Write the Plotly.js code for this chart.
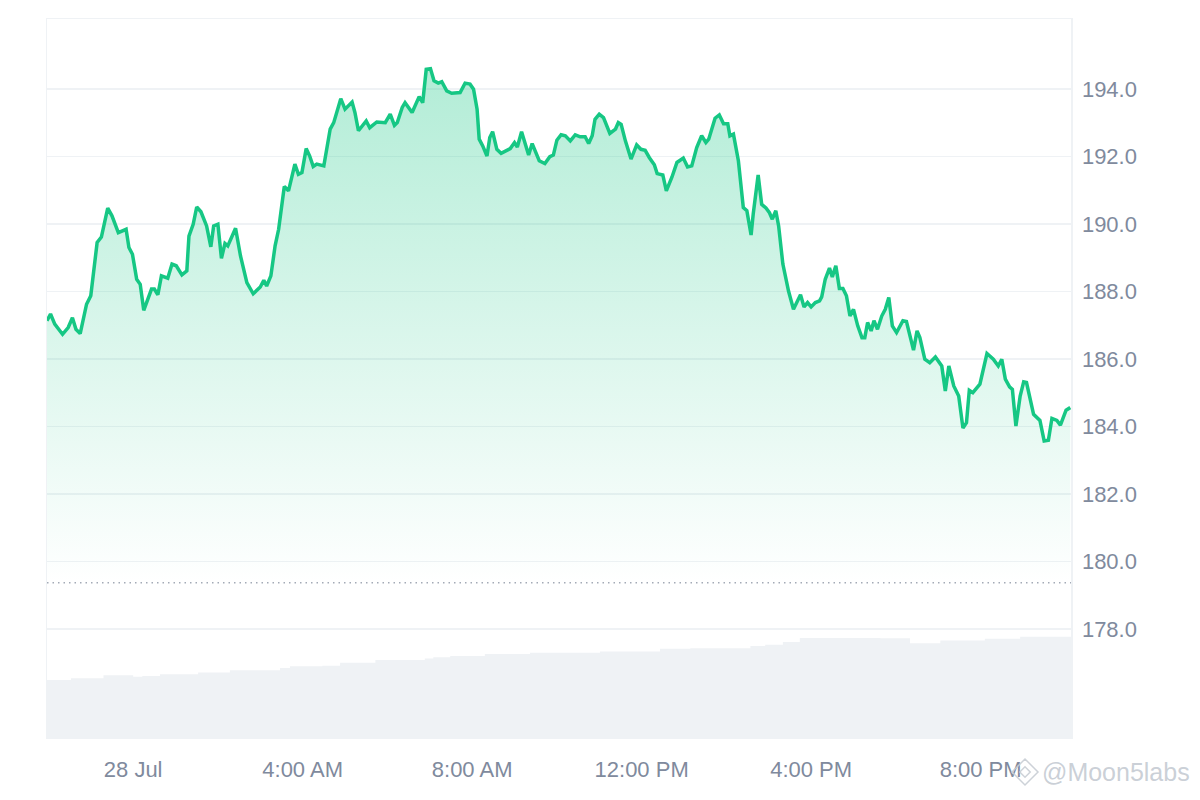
<!DOCTYPE html>
<html><head><meta charset="utf-8">
<script src="https://cdn.plot.ly/plotly-3.0.1.min.js"></script>
<style>html,body{margin:0;padding:0;background:#fff}#chart{width:1200px;height:800px}</style>
</head><body><div id="chart"></div>
<script>
// minutes relative to 00:00, 28 Jul
const minutes = [
-122,-117,-111,-100,-92,-86,-81,-75,-66,-60,
-51,-45,-36,-30,-21,-10,-6,-1,5,10,
15,26,30,35,40,49,55,61,69,76,
79,85,90,96,104,110,114,120,125,130,
134,145,152,161,170,180,185,189,195,201,
206,214,220,229,234,239,245,250,255,260,
270,279,284,294,300,310,314,319,330,335,
345,357,364,370,374,381,385,395,405,410,
415,421,426,432,437,444,451,463,470,477,
482,487,490,495,501,505,509,515,521,529,
534,540,544,550,560,565,569,575,583,590,
595,600,606,612,619,626,633,640,645,650,
654,660,666,675,683,687,691,697,705,713,
719,725,731,738,742,750,755,763,770,779,
785,791,798,805,811,815,824,830,836,842,
845,850,857,864,869,875,878,885,890,896,
901,905,910,914,920,928,935,941,945,950,
955,960,966,972,975,980,986,990,995,1000,
1005,1010,1015,1020,1026,1032,1036,1040,1045,1049,
1054,1060,1065,1070,1075,1081,1090,1095,1105,1110,
1114,1121,1128,1136,1145,1150,1155,1162,1169,1175,
1180,1184,1189,1199,1209,1218,1225,1230,1235,1241,
1245,1250,1256,1261,1265,1275,1284,1290,1296,1301,
1308,1313,1321,1327];
const prices = [
187.13,187.33,187.03,186.73,186.93,187.22,186.88,186.75,187.62,187.87,
189.45,189.61,190.47,190.24,189.74,189.84,189.30,189.10,188.36,188.21,
187.44,188.07,188.07,187.90,188.46,188.39,188.81,188.76,188.49,188.61,
189.64,189.99,190.50,190.36,189.94,189.32,189.94,189.99,188.98,189.42,
189.35,189.87,189.05,188.26,187.93,188.13,188.33,188.16,188.46,189.35,
189.84,191.11,190.98,191.77,191.47,191.52,192.23,192.01,191.70,191.77,
191.72,192.81,193.00,193.71,193.40,193.61,193.30,192.76,193.05,192.85,
193.02,193.00,193.25,192.92,193.00,193.45,193.59,193.30,193.77,193.59,
194.58,194.60,194.24,194.17,194.21,193.94,193.87,193.89,194.17,194.14,
193.99,193.40,192.51,192.31,192.01,192.56,192.73,192.21,192.09,192.18,
192.23,192.41,192.28,192.73,192.04,192.38,192.16,191.87,191.79,191.99,
192.04,192.48,192.64,192.61,192.46,192.64,192.58,192.58,192.38,192.61,
193.10,193.25,193.15,192.68,192.81,193.00,192.95,192.46,191.92,192.34,
192.21,192.18,191.96,191.75,191.49,191.45,190.98,191.39,191.82,191.95,
191.69,191.72,192.26,192.61,192.41,192.51,193.13,193.23,192.97,192.97,
192.61,192.66,191.87,190.48,190.39,189.67,190.29,191.45,190.58,190.47,
190.33,190.14,190.39,189.94,188.81,188.01,187.47,187.74,187.90,187.54,
187.67,187.54,187.67,187.72,187.84,188.36,188.69,188.43,188.76,188.09,
188.09,187.87,187.27,187.47,186.98,186.63,186.63,187.08,186.83,187.13,
186.88,187.27,187.47,187.82,186.98,186.78,187.13,187.11,186.26,186.83,
186.63,185.99,185.89,186.06,185.79,185.05,185.79,185.20,184.90,183.95,
184.11,185.07,185.00,185.25,186.16,185.99,185.79,185.99,185.40,185.17,
185.10,184.01,184.90,185.32,185.30,184.36,184.18,183.57,183.59,184.24,
184.18,184.04,184.48,184.56];
const volMinutes = [-122,-88,-42,0,13,38,92,137,208,222,268,293,343,413,425,449,498,562,661,746,789,874,895,920,944,1058,1100,1143,1206,1256,1328];
const volumes = [318,327,344,336,340,349,360,372,384,394,397,414,429,438,444,451,462,470,477,492,494,507,514,529,552,550,522,537,548,559,559];
const xTickMinutes = [0,240,480,720,960,1200];
const xTickLabels = ['28 Jul','4:00 AM','8:00 AM','12:00 PM','4:00 PM','8:00 PM'];
const yTicks = [178,180,182,184,186,188,190,192,194];
const refPrice = 179.37;
const windowMinutes = [-122, 1328];

const base = Date.UTC(2024,6,28,0,0,0);
function toDate(m){ return new Date(base + m*60000).toISOString().slice(0,19).replace('T',' '); }

const n = Math.min(minutes.length, prices.length);
const xs = minutes.slice(0,n).map(toDate);
const ys = prices.slice(0,n);
const maxP = Math.max(...ys);

const textColor = '#808a9d';
const gridColor = '#eff2f5';
const fontFam = '"Liberation Sans", Arial, Helvetica, sans-serif';

const traces = [
  {
    x: xs, y: ys, type:'scatter', mode:'lines',
    line:{color:'#16c784', width:3.5},
    fill:'tozeroy',
    fillgradient:{type:'vertical', start: refPrice, stop: maxP,
      colorscale:[[0,'rgba(22,199,132,0)'],[1,'rgba(22,199,132,0.33)']]},
    hoverinfo:'skip'
  },
  {
    x: volMinutes.map(toDate), y: volumes, type:'scatter', mode:'lines', yaxis:'y2',
    line:{shape:'hv', width:0, color:'rgb(239,242,245)'},
    fill:'tozeroy', fillcolor:'rgb(239,242,245)', hoverinfo:'skip'
  }
];

const cx = (1025-47)/1024, cy = (737-772)/718, hx = 13/1024, hy = 13/718;
const layout = {
  width:1200, height:800,
  margin:{l:47, r:129, t:19, b:63},
  paper_bgcolor:'#fff', plot_bgcolor:'#fff',
  showlegend:false,
  font:{family:fontFam, color:textColor},
  xaxis:{
    type:'date', range:[toDate(windowMinutes[0]), toDate(windowMinutes[1])],
    tickmode:'array', tickvals: xTickMinutes.map(toDate), ticktext: xTickLabels,
    showgrid:false, zeroline:false, showline:true, mirror:true,
    linecolor:gridColor, linewidth:1.5, ticks:'',
    tickfont:{size:22, color:textColor, family:fontFam},
    ticklabelstandoff:12
  },
  yaxis:{
    side:'right', range:[174.80, 196.07],
    tickmode:'array', tickvals: yTicks, ticktext: yTicks.map(v=>v.toFixed(1)),
    showgrid:true, gridcolor:gridColor, gridwidth:1.5,
    zeroline:false, showline:true, mirror:true, linecolor:gridColor, linewidth:1.5,
    ticks:'', tickfont:{size:22, color:textColor, family:fontFam},
    ticklabelstandoff:5
  },
  yaxis2:{overlaying:'y', range:[0,4000], visible:false, fixedrange:true},
  shapes:[
    {type:'line', xref:'paper', x0:0, x1:1, yref:'y', y0:refPrice, y1:refPrice,
     line:{color:'#a3aab6', width:1.5, dash:'1.5px,4px'}},
    {type:'path', xref:'paper', yref:'paper',
     path:`M ${cx-hx} ${cy} L ${cx} ${cy+hy} L ${cx+hx} ${cy} L ${cx} ${cy-hy} Z`,
     line:{color:'rgba(200,205,212,0.9)', width:1.5}},
    {type:'path', xref:'paper', yref:'paper',
     path:`M ${cx-hx*0.4} ${cy} L ${cx} ${cy+hy*0.4} L ${cx+hx*0.4} ${cy} L ${cx} ${cy-hy*0.4} Z`,
     line:{color:'rgba(200,205,212,0.9)', width:1.5}}
  ],
  annotations:[
    {xref:'paper', yref:'paper', x:(1116-47)/1024, y:cy, xanchor:'center', yanchor:'middle',
     text:'@Moon5labs', showarrow:false,
     font:{size:25, color:'rgba(196,202,210,0.9)', family:fontFam}}
  ]
};

Plotly.newPlot('chart', traces, layout, {staticPlot:true, displayModeBar:false});
</script>
</body></html>
